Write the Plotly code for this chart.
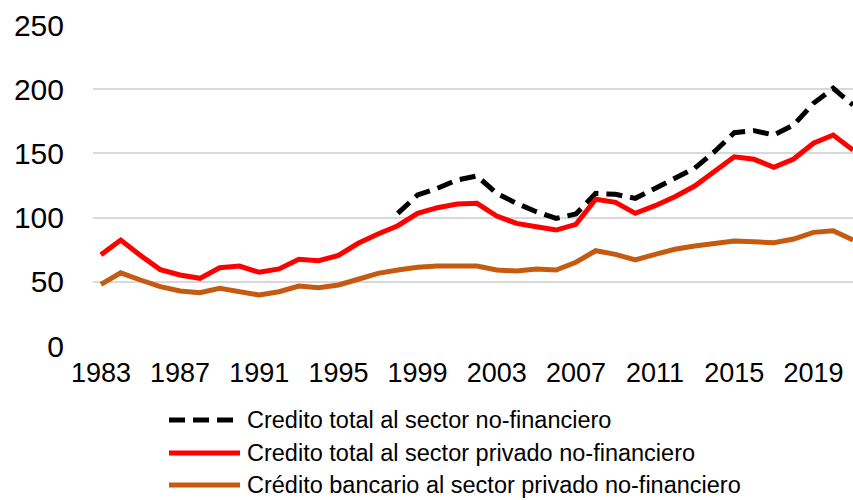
import plotly.graph_objects as go

# ── Data ───────────────────────────────────────────────────────────
years = list(range(1983, 2022))

credito_total = [None] * 15 + [
    103.3, 117.6, 122.8, 129.3, 132.4,
    118.9, 111.1, 104.6, 99.4, 102.8,
    118.9, 118.1, 115.0, 122.8, 130.6,
    138.4, 151.3, 166.1, 167.7, 164.3,
    172.1, 189.0, 200.7, 187.7,
]

credito_privado = [
    71.0, 82.5, 70.5, 59.5, 55.3, 52.7, 61.0, 62.3, 57.4, 60.0,
    67.5, 66.4, 70.5, 80.0, 87.2, 93.7, 103.3, 107.7, 110.6, 111.1,
    101.2, 95.5, 92.9, 90.3, 94.8, 114.3, 111.9, 103.3, 109.3, 116.3,
    124.6, 135.7, 147.4, 145.4, 139.2, 145.6, 157.9, 164.3, 152.6,
]

credito_bancario = [
    48.0, 57.0, 51.4, 46.2, 42.8, 41.5, 45.0, 42.8, 39.7, 42.3,
    46.7, 45.4, 47.5, 52.0, 56.6, 59.2, 61.3, 62.3, 62.3, 62.3,
    59.2, 58.4, 60.0, 59.2, 65.2, 74.2, 71.4, 67.0, 71.4, 75.3,
    77.9, 79.4, 81.8, 81.2, 80.4, 83.3, 88.5, 89.8, 82.5,
]

tick_years = list(range(1983, 2020, 4))
tick_labels = [str(y) for y in tick_years]

series_names = [
    "Credito total al sector no-financiero",
    "Credito total al sector privado no-financiero",
    "Crédito bancario al sector privado no-financiero",
]

# ── Layout geometry (pixels) ───────────────────────────────────────
W, H = 853, 500
M_L, M_R, M_T, M_B = 93, 0, 25, 154
PLOT_W = W - M_L - M_R
PLOT_H = H - M_T - M_B

FONT = "Liberation Sans, Arial, sans-serif"


def px_x(x):
    return (x - M_L) / PLOT_W


def px_y(y):
    return (H - M_B - y) / PLOT_H


styles = [
    dict(color="#000000", width=5, dash="16px,8px"),
    dict(color="#FF0000", width=5),
    dict(color="#C55A11", width=5),
]

fig = go.Figure()
for name, vals, st in zip(series_names, [credito_total, credito_privado, credito_bancario], styles):
    fig.add_trace(go.Scatter(
        x=years, y=vals, name=name, mode="lines",
        line=st, showlegend=False, connectgaps=False,
    ))

# manual legend below the plot (wide line samples like the original)
rows = [420, 453, 485]
for name, st, ry in zip(series_names, styles, rows):
    fig.add_shape(
        type="line", xref="paper", yref="paper",
        x0=px_x(169), x1=px_x(240), y0=px_y(ry), y1=px_y(ry),
        line=st,
    )
    fig.add_annotation(
        text=name, xref="paper", yref="paper",
        x=px_x(245), y=px_y(ry), xanchor="left", yanchor="middle",
        showarrow=False, font=dict(family=FONT, size=23.5, color="#000000"),
    )

fig.update_layout(
    width=W, height=H,
    margin=dict(l=M_L, r=M_R, t=M_T, b=M_B),
    plot_bgcolor="white", paper_bgcolor="white",
    font=dict(family=FONT, color="#000000"),
    showlegend=False,
)
fig.update_xaxes(
    range=[1982.6, 2021],
    tickvals=tick_years, ticktext=tick_labels,
    tickfont=dict(size=27),
    showgrid=False, zeroline=False, showline=False,
    ticks="", ticklabelstandoff=8,
)
fig.update_yaxes(
    range=[0, 250], dtick=50,
    tickfont=dict(size=30),
    showgrid=True, gridcolor="#D9D9D9", gridwidth=1.5,
    zeroline=False, showline=False,
    ticks="", ticklabelstandoff=28,
)

fig.write_html(
    "out.html",
    config={"displayModeBar": False},
    post_script="document.body.style.margin='0';",
)
